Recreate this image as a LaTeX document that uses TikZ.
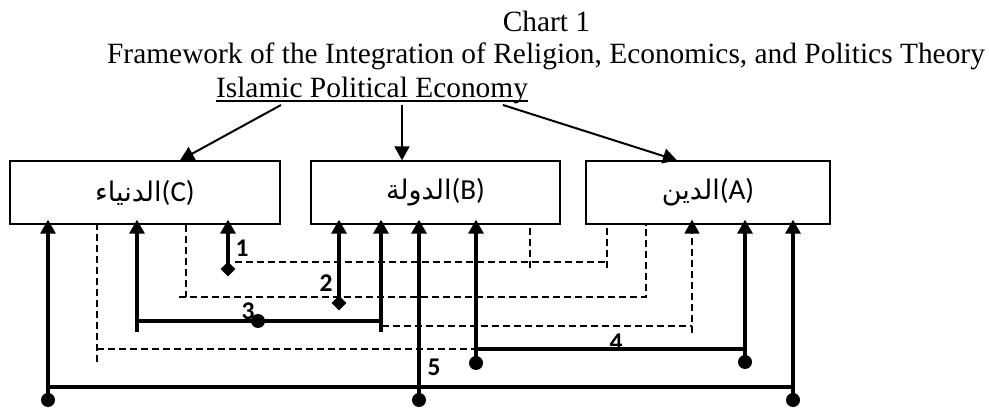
\documentclass[tikz,border=0pt]{standalone}
\usepackage{fontspec}
\setmainfont{Liberation Serif}
\newfontfamily\boxfont{Carlito}
\newfontfamily\arabicfont[Script=Arabic]{DejaVu Sans}
\TeXXeTstate=1
\usetikzlibrary{arrows.meta,shapes.geometric}

\begin{document}
\begin{tikzpicture}[x=1pt,y=-1pt,>={Triangle[length=14pt,width=15pt]},
        pane/.style={draw,line width=1.3pt,minimum height=63pt,inner sep=0pt,
          font=\boxfont\fontsize{29}{32}\selectfont},
        solid line/.style={line width=3.2pt},
        dash line/.style={line width=1.6pt,dash pattern=on 7pt off 4pt},
        to box/.style={->,shorten >=-5pt},
        bullet/.style={circle,fill,inner sep=0pt,minimum size=14pt},
        diam/.style={diamond,fill,inner sep=0pt,minimum size=15pt},
        num/.style={font=\boxfont\bfseries\fontsize{25.5}{28}\selectfont}]
        \tikzstyle{every node}=[font=\fontsize{29.4}{35}\selectfont]
  \useasboundingbox (0,0) rectangle (989,409);

  % titles
  \node[anchor=base] (chart) at (546.5,32) {Chart 1};
  \node[anchor=base] (frame) at (546,64)
    {Framework of the Integration of Religion, Economics, and Politics Theory};
  \node[anchor=base,inner sep=0pt] (ipe) at (372,98) {Islamic Political Economy};
  \draw[line width=1.4pt] ([yshift=-3pt]ipe.base west) -- ([yshift=-3pt]ipe.base east);

  % the three parts
  \node[pane,minimum width=270pt] (C) at (145,192.5)
    {{\arabicfont\fontsize{27}{32}\selectfont\beginR الدنياء\endR}(C)};
  \node[pane,minimum width=249pt] (B) at (435.5,192.5)
    {{\arabicfont\fontsize{27}{32}\selectfont\beginR الدولة\endR}(B)};
  \node[pane,minimum width=244pt] (A) at (708,192.5)
    {{\arabicfont\fontsize{27}{32}\selectfont\beginR الدين\endR}(A)};

  \coordinate (s1) at (281,105);
  \coordinate (s2) at (402,105);
  \coordinate (s3) at (503,105);
  \draw[->,line width=2pt] (s1) -- ([xshift=35pt]C.north);
  \draw[->,line width=2pt] (s2) -- ([xshift=-33.5pt]B.north);
  \draw[->,line width=2pt] (s3) -- ([xshift=-31pt]A.north);

  % 1
  \node[diam] (k1) at (228,269) {};
  \draw[solid line,to box] (k1.center) -- (k1 |- C.south);
  \node[num] at (242,248) {1};
  \coordinate (e1) at (235,262);
  \coordinate (f1) at (607,268);
  \coordinate (g1) at (530,268);
  \draw[dash line] (e1) -- (e1 -| f1);
  \draw[dash line] (f1) -- (f1 |- A.south);
  \draw[dash line] (g1) -- (g1 |- B.south);

  % 2
  \node[diam] (k2) at (339,303) {};
  \draw[solid line,to box] (k2.center) -- (k2 |- B.south);
  \node[num] at (326,283) {2};
  \coordinate (e2) at (179,297);
  \coordinate (f2) at (646,297);
  \coordinate (g2) at (186,297);
  \draw[dash line] (g2 |- C.south) -- (g2);
  \draw[dash line] (e2) -- (f2) -- (f2 |- A.south);

  % 3
  \coordinate (q3a) at (137,332);
  \coordinate (q3b) at (381,332);
  \node[bullet] (k3) at (258,321) {};
  \draw[solid line,to box] (q3a) -- (q3a |- C.south);
  \draw[solid line,to box] (q3b) -- (q3b |- B.south);
  \draw[solid line] (k3 -| q3a) -- (k3 -| q3b);
  \node[num] at (248,311) {3};
  \coordinate (e3) at (382,326);
  \coordinate (f3) at (692,333);
  \draw[dash line] (e3) -- (e3 -| f3);
  \draw[dash line,to box] (f3) -- (f3 |- A.south);

  % 4
  \node[bullet] (p4a) at (476,363) {};
  \node[bullet] (p4b) at (745,362) {};
  \draw[solid line,to box] (p4a.center) -- (p4a |- B.south);
  \draw[solid line,to box] (p4b.center) -- (p4b |- A.south);
  \draw[solid line] ([yshift=14pt]p4a.center) -- ([yshift=13pt]p4b.center);
  \node[num] at (616,342) {4};
  \coordinate (e4) at (97,362);
  \coordinate (f4) at (474,349);
  \draw[dash line] (e4) -- (e4 |- C.south);
  \draw[dash line] (e4 |- f4) -- (f4);

  % 5
  \node[bullet] (p5a) at (48,400) {};
  \node[bullet] (p5b) at (419,400) {};
  \node[bullet] (p5c) at (793,400) {};
  \draw[solid line,to box] (p5a.center) -- (p5a |- C.south);
  \draw[solid line,to box] (p5b.center) -- (p5b |- B.south);
  \draw[solid line,to box] (p5c.center) -- (p5c |- A.south);
  \draw[solid line] ([yshift=13pt]p5a.center) -- ([yshift=13pt]p5c.center);
  \node[num] at (434,367) {5};

\end{tikzpicture}
\end{document}
